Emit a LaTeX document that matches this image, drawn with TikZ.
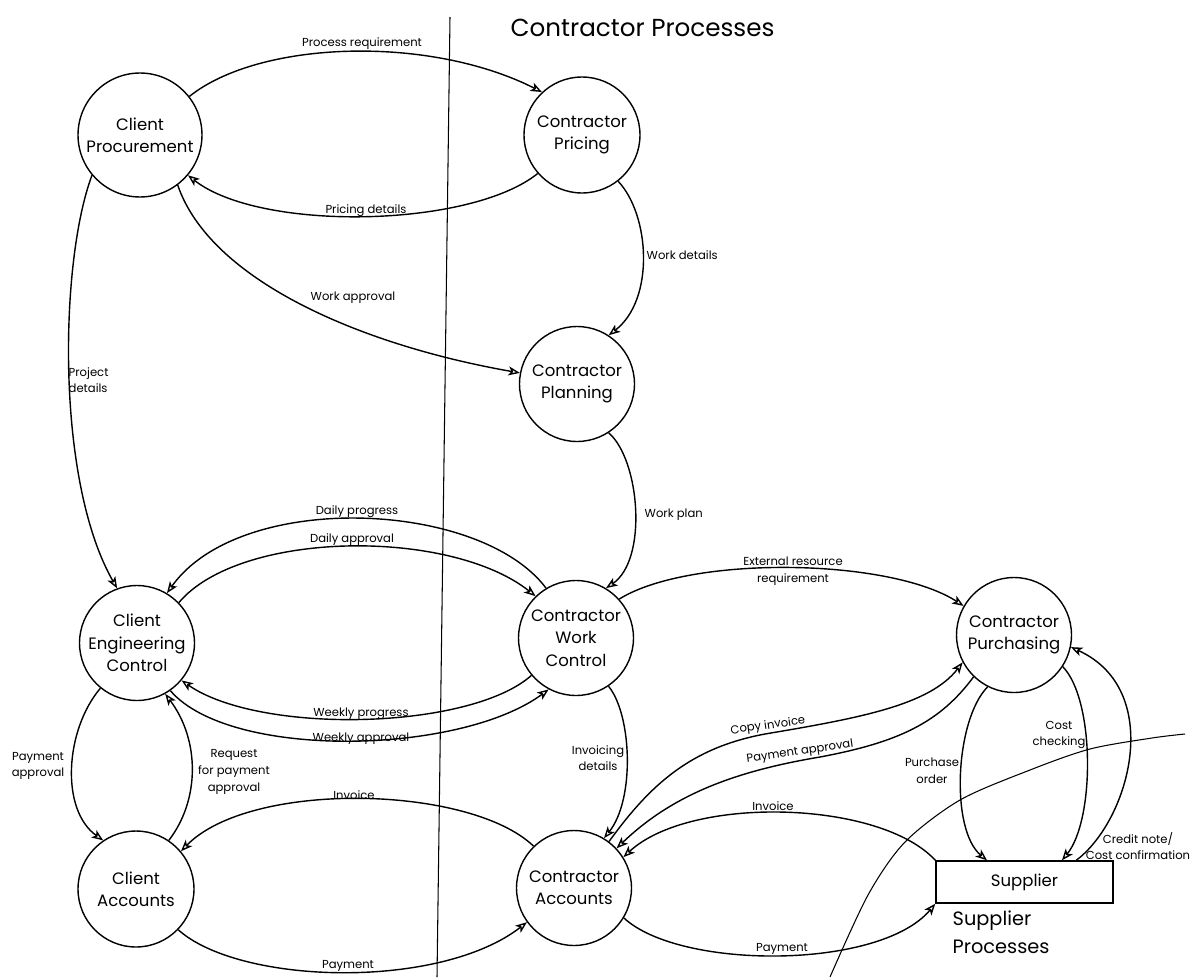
\documentclass[tikz,border=0pt]{standalone}
\usepackage{fontspec}
\setmainfont{Poppins}
\usetikzlibrary{arrows.meta,calc}
\begin{document}
\begin{tikzpicture}[x=0.02cm,y=-0.02cm,
  line width=0.8pt,
  proc/.style={circle,draw,minimum size=2.3cm,inner sep=0pt,align=center,
    font=\fontsize{9.4}{12.7}\selectfont},
  flow/.style={-{Stealth[open,length=2.3mm,width=1.8mm,inset=0.6mm]}},
  lbl/.style={inner sep=0pt,align=center,font=\fontsize{6.6}{9.5}\selectfont},
]
\useasboundingbox (0,0) rectangle (1200,977);

% boundary between client and contractor sides
\draw[line width=0.6pt] (450,17) -- (437,977);
\node[anchor=west,inner sep=0pt,font=\fontsize{14}{16}\selectfont] (title) at (510,28) {Contractor Processes};

% processes
\node[proc,minimum size=2.48cm] (cp)  at (140,135)  {Client\\Procurement};
\node[proc,minimum size=2.32cm] (cpr) at (582,135)  {Contractor\\Pricing};
\node[proc] (cpl) at (577,384)  {Contractor\\Planning};
\node[proc] (cec) at (137,643)  {Client\\Engineering\\Control};
\node[proc] (cwc) at (576,638)  {Contractor\\Work\\Control};
\node[proc] (cpu) at (1014,635) {Contractor\\Purchasing};
\node[proc,minimum size=2.32cm] (cla) at (136,889) {Client\\Accounts};
\node[proc] (ca)  at (574,888)  {Contractor\\Accounts};
\node[draw,minimum width=3.54cm,minimum height=0.84cm,inner sep=0pt,
  font=\fontsize{9.4}{12}\selectfont] (sup) at (1024.5,882) {Supplier};
\node[anchor=west,align=left,inner sep=0pt,font=\fontsize{11}{16}\selectfont] (supp) at (952,932) {Supplier\\Processes};

\coordinate (poIn)  at ($(sup.north west)!0.29!(sup.north east)$);
\coordinate (ccIn)  at ($(sup.north west)!0.71!(sup.north east)$);
\coordinate (cnOut) at ($(sup.north west)!0.79!(sup.north east)$);

% supplier process boundary
\draw[line width=0.6pt] plot[smooth] coordinates {(830,977) (868,895) (905,842) (960,800) (1030,770) (1090,749) (1152,738) (1185,734)};

% flows
\draw[flow] (cp.38) .. controls (260,40) and (430,35) .. (cpr.133);
\node[lbl] (l1) at (362,44) {Process requirement};

\draw[flow] (cpr.221) .. controls (470,228) and (260,232) .. (cp.-40);
\node[lbl] (l2) at (366,211) {Pricing details};

\draw[flow] (cpr.-52) .. controls (650,215) and (655,300) .. (cpl.57);
\node[lbl,anchor=west] (l3) at (646,255) {Work details};

\draw[flow] (cp.-53) .. controls (210,280) and (360,345) .. (cpl.169);
\node[lbl,anchor=west] (l4) at (310,298) {Work approval};

\draw[flow] (cp.220) .. controls (60,260) and (55,480) .. (cec.110);
\node[lbl,anchor=west,align=left] (l5) at (68,380) {Project\\details};

\draw[flow] (cpl.-57) .. controls (640,460) and (648,560) .. (cwc.59);
\node[lbl,anchor=west] (l6) at (644,515) {Work plan};

\draw[flow] (cwc.121) .. controls (480,500) and (240,490) .. (cec.59);
\node[lbl] (l7) at (357,512) {Daily progress};

\draw[flow] (cec.44) .. controls (240,530) and (450,528) .. (cwc.134);
\node[lbl] (l8) at (352,540) {Daily approval};

\draw[flow] (cwc.220) .. controls (470,730) and (260,735) .. (cec.-40);
\node[lbl] (l9) at (361,714) {Weekly progress};

\draw[flow] (cec.-55) .. controls (230,760) and (460,755) .. (cwc.242);
\node[lbl] (l10) at (361,739) {Weekly approval};

\draw[flow] (cwc.42) .. controls (690,555) and (890,558) .. (cpu.150);
\node[lbl] (l11) at (793,571) {External resource\\requirement};

\draw[flow] (cwc.-56) .. controls (632,715) and (635,800) .. (ca.59);
\node[lbl] (l12) at (598,758) {Invoicing\\details};

\draw[flow] (ca.53) .. controls (650,785) and (690,748) .. (765,734)
  .. controls (860,718) and (930,705) .. (cpu.208);
\node[lbl,rotate=8] (l13) at (768,726) {Copy invoice};

\draw[flow] (cpu.226) .. controls (940,722) and (900,742) .. (820,757)
  .. controls (730,772) and (670,797) .. (ca.43);
\node[lbl,rotate=8] (l14) at (800,752) {Payment approval};

\draw[flow] (sup.north west) .. controls (880,800) and (690,795) .. (ca.32);
\node[lbl] (l15) at (773,806) {Invoice};

\draw[flow] (ca.-31) .. controls (680,970) and (880,970) .. (sup.south west);
\node[lbl] (l16) at (782,949) {Payment};

\draw[flow] (ca.134) .. controls (470,785) and (250,780) .. (cla.40);
\node[lbl] (l17) at (354,795) {Invoice};

\draw[flow] (cla.-44) .. controls (240,985) and (440,990) .. (ca.216);
\node[lbl] (l18) at (348,966) {Payment};

\draw[flow] (cec.231) .. controls (65,730) and (60,810) .. (cla.124);
\node[lbl] (l19) at (38,766) {Payment\\approval};

\draw[flow] (cla.56) .. controls (200,800) and (200,740) .. (cec.-61);
\node[lbl] (l20) at (234,772) {Request\\for payment\\approval};

\draw[flow] (cpu.243) .. controls (955,720) and (950,830) .. (poIn);
\node[lbl] (l21) at (932,771) {Purchase\\order};

\draw[flow] (cpu.-33) .. controls (1095,700) and (1095,820) .. (ccIn);
\node[lbl] (l22) at (1059,735) {Cost\\checking};

\draw[flow] (cnOut) .. controls (1130,820) and (1165,690) .. (cpu.-12);
\node[lbl] (l23) at (1138,846) {Credit note/\\Cost confirmation};
\end{tikzpicture}
\end{document}
